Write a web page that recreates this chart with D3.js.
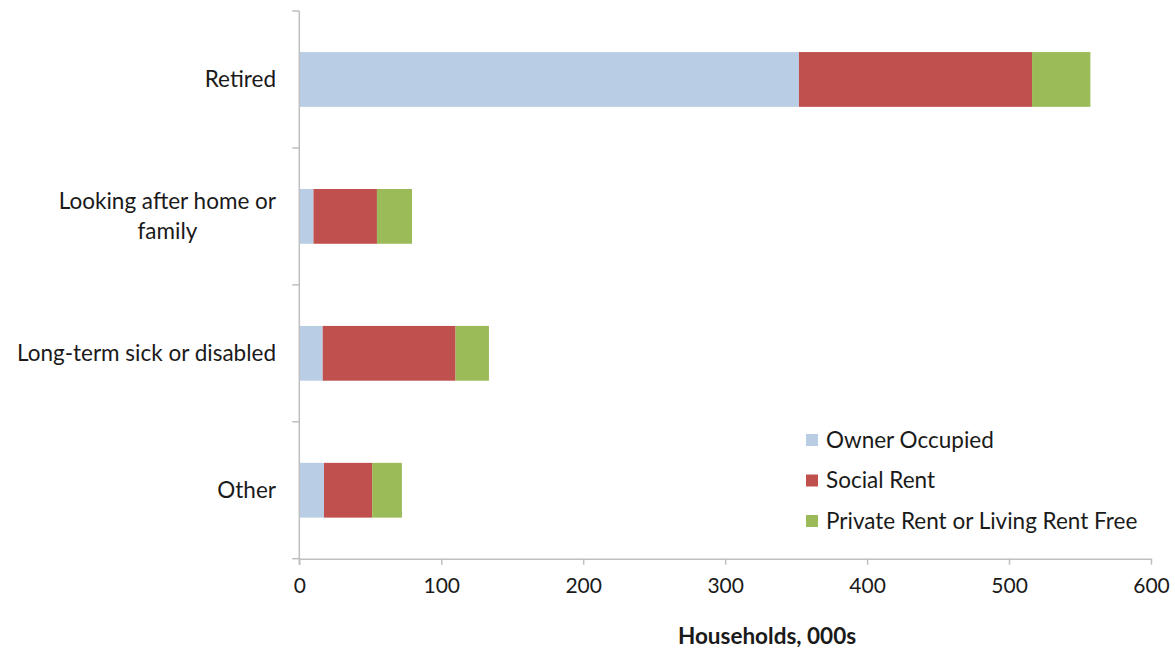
<!DOCTYPE html>
<html><head><meta charset="utf-8">
<script src="https://cdn.jsdelivr.net/npm/d3@7"></script>
<style>body{margin:0;background:#fff}text{font-family:Lato,"Open Sans",sans-serif}</style>
</head><body><svg id="c" width="1175" height="654"></svg>
<script>
const categories = ["Retired", "Looking after home or family", "Long-term sick or disabled", "Other"];
const categoryLines = [["Retired"], ["Looking after home or", "family"], ["Long-term sick or disabled"], ["Other"]];
const seriesNames = ["Owner Occupied", "Social Rent", "Private Rent or Living Rent Free"];
const ownerOccupied = [352, 10, 16.5, 17.4];
const socialRent = [164.2, 44.7, 93.6, 33.9];
const privateRent = [41.1, 24.7, 23.5, 21];
const xTicks = [0, 100, 200, 300, 400, 500, 600];
const colors = ["#b9cde5", "#c0504d", "#9bbb59"];

(function () {
const svg = d3.select("#c");
const pLeft = 299.3, pRight = 1151, pTop = 11, pBottom = 558.7;
const x = d3.scaleLinear().domain([0, 600]).range([pLeft, pRight]);
const y = d3.scaleBand().domain(categories).range([pTop, pBottom]).paddingInner(0.6).paddingOuter(0.3);

const rows = categories.map((c, i) => ({cat: c, "Owner Occupied": ownerOccupied[i], "Social Rent": socialRent[i], "Private Rent or Living Rent Free": privateRent[i]}));
const stacked = d3.stack().keys(seriesNames)(rows);

stacked.forEach((s, si) => {
  svg.append("g").selectAll("rect").data(s).join("rect")
    .attr("x", d => x(d[0])).attr("width", d => x(d[1]) - x(d[0]))
    .attr("y", d => y(d.data.cat)).attr("height", y.bandwidth())
    .attr("fill", colors[si]);
});

// x axis
const xa = svg.append("g").attr("transform", `translate(0,${pBottom})`)
  .call(d3.axisBottom(x).tickValues(xTicks).tickSize(6).tickSizeOuter(0).tickPadding(13));
xa.select(".domain").attr("stroke", "#bfbfbf").attr("stroke-width", 1.5);
xa.selectAll(".tick line").attr("stroke", "#bfbfbf").attr("stroke-width", 1.5);
xa.selectAll(".tick text").attr("font-size", 21).attr("fill", "#1a1a1a").attr("font-family", "Lato");

// y axis
const ySep = d3.scaleLinear().domain([0, 4]).range([pTop, pBottom]);
svg.append("line").attr("x1", pLeft).attr("x2", pLeft).attr("y1", pTop).attr("y2", pBottom + 6)
  .attr("stroke", "#bfbfbf").attr("stroke-width", 1.5);
svg.append("g").selectAll("line").data(d3.range(5)).join("line")
  .attr("x1", pLeft - 7).attr("x2", pLeft).attr("y1", d => ySep(d)).attr("y2", d => ySep(d))
  .attr("stroke", "#bfbfbf").attr("stroke-width", 1.5);

// category labels (multi-line labels are centred on their widest line, which is right-aligned)
const labelRight = 276;
categories.forEach((c, i) => {
  const lines = categoryLines[i];
  const cy = y(c) + y.bandwidth() / 2;
  const lh = 30;
  const t = svg.append("text").attr("font-size", 22.5).attr("fill", "#1a1a1a");
  const spans = lines.map((l, j) => t.append("tspan").attr("y", cy + (j - (lines.length - 1) / 2) * lh).attr("dy", "0.35em").text(l));
  if (lines.length === 1) {
    t.attr("text-anchor", "end");
    spans[0].attr("x", labelRight);
  } else {
    const widths = spans.map(s => s.node().getComputedTextLength());
    const cx = labelRight - d3.max(widths) / 2;
    t.attr("text-anchor", "middle");
    spans.forEach(s => s.attr("x", cx));
  }
});

// axis title
svg.append("text").attr("x", 767).attr("y", 636).attr("dy", "0.35em").attr("text-anchor", "middle")
  .attr("font-size", 22.5).attr("font-weight", "bold").attr("fill", "#1a1a1a").text("Households, 000s");

// legend
const lg = svg.append("g");
seriesNames.forEach((n, i) => {
  const ly = 440 + i * 40.5;
  lg.append("rect").attr("x", 806).attr("y", ly - 6).attr("width", 12).attr("height", 12).attr("fill", colors[i]);
  lg.append("text").attr("x", 826).attr("y", ly).attr("dy", "0.35em").attr("font-size", 22.5).attr("fill", "#1a1a1a").text(n);
});
})();
</script></body></html>
